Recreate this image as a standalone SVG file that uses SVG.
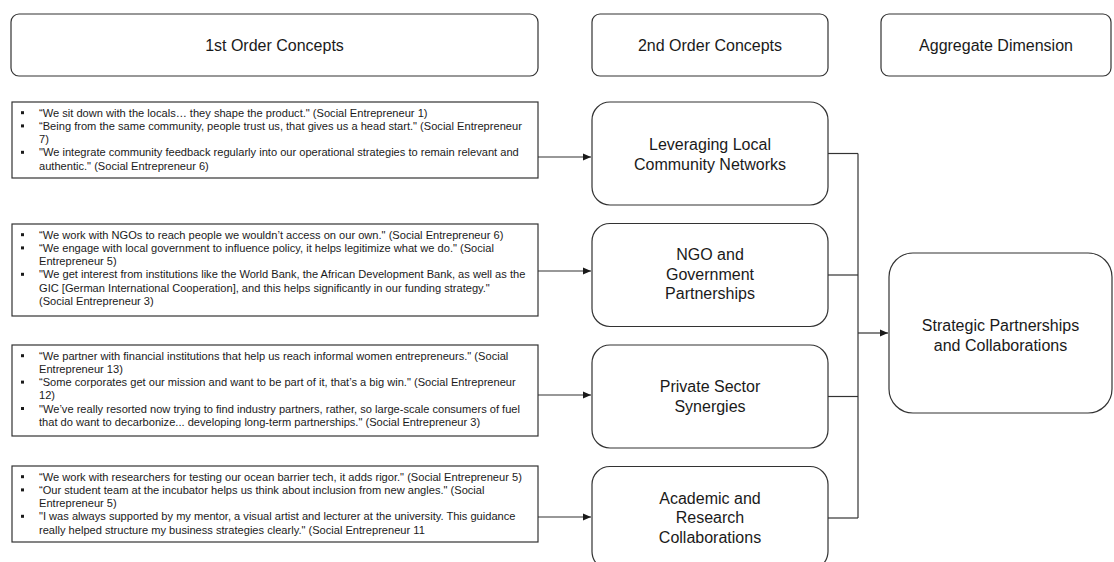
<svg xmlns="http://www.w3.org/2000/svg" width="1114" height="562" viewBox="0 0 1114 562">
<style>
  .hdr { fill: #ffffff; stroke: #333333; stroke-width: 1.2; }
  .qbox { fill: #ffffff; stroke: #333333; stroke-width: 1.2; }
  .cbox { fill: #ffffff; stroke: #333333; stroke-width: 1.2; }
  .ht { font-family: "Liberation Sans", Arial, sans-serif; font-size: 16px; fill: #1a1a1a; text-anchor: middle; }
  .ct { font-family: "Liberation Sans", Arial, sans-serif; font-size: 16px; fill: #1a1a1a; text-anchor: middle; }
  .qt { font-family: "Liberation Sans", Arial, sans-serif; font-size: 11.1px; fill: #1a1a1a; }
  .bul { fill: #1a1a1a; }
  .conn { fill: none; stroke: #333333; stroke-width: 1.2; }
</style>
<defs>
  <marker id="arr" markerWidth="10" markerHeight="10" refX="9" refY="5" orient="auto" markerUnits="userSpaceOnUse">
    <path d="M1,1.5 L9,5 L1,8.5 Z" fill="#1a1a1a"/>
  </marker>
</defs>
<rect width="1114" height="562" fill="#ffffff"/>

<g id="header-1st">
  <rect class="hdr" x="11" y="14" width="527" height="62" rx="8"/>
  <text class="ht" x="274.5" y="50.5">1st Order Concepts</text>
</g>
<g id="header-2nd">
  <rect class="hdr" x="592" y="14" width="236" height="62" rx="8"/>
  <text class="ht" x="710" y="50.5">2nd Order Concepts</text>
</g>
<g id="header-agg">
  <rect class="hdr" x="881" y="14" width="230" height="62" rx="8"/>
  <text class="ht" x="996" y="50.5">Aggregate Dimension</text>
</g>

<g id="quotes-1">
  <rect class="qbox" x="12" y="102" width="526" height="76"/>
  <rect class="bul" x="21" y="111.2" width="3" height="3"/>
  <rect class="bul" x="21" y="124.4" width="3" height="3"/>
  <rect class="bul" x="21" y="150.8" width="3" height="3"/>
  <text class="qt" x="39" y="116.7">“We sit down with the locals… they shape the product." (Social Entrepreneur 1)</text>
  <text class="qt" x="39" y="129.9">“Being from the same community, people trust us, that gives us a head start." (Social Entrepreneur</text>
  <text class="qt" x="39" y="143.1">7)</text>
  <text class="qt" x="39" y="156.3">"We integrate community feedback regularly into our operational strategies to remain relevant and</text>
  <text class="qt" x="39" y="169.5">authentic." (Social Entrepreneur 6)</text>
</g>

<g id="quotes-2">
  <rect class="qbox" x="12" y="224" width="526" height="92"/>
  <rect class="bul" x="21" y="233.2" width="3" height="3"/>
  <rect class="bul" x="21" y="246.4" width="3" height="3"/>
  <rect class="bul" x="21" y="272.8" width="3" height="3"/>
  <text class="qt" x="39" y="238.7">“We work with NGOs to reach people we wouldn’t access on our own." (Social Entrepreneur 6)</text>
  <text class="qt" x="39" y="251.9">“We engage with local government to influence policy, it helps legitimize what we do." (Social</text>
  <text class="qt" x="39" y="265.1">Entrepreneur 5)</text>
  <text class="qt" x="39" y="278.3">"We get interest from institutions like the World Bank, the African Development Bank, as well as the</text>
  <text class="qt" x="39" y="291.5">GIC [German International Cooperation], and this helps significantly in our funding strategy."</text>
  <text class="qt" x="39" y="304.7">(Social Entrepreneur 3)</text>
</g>

<g id="quotes-3">
  <rect class="qbox" x="12" y="345" width="526" height="91"/>
  <rect class="bul" x="21" y="354.2" width="3" height="3"/>
  <rect class="bul" x="21" y="380.6" width="3" height="3"/>
  <rect class="bul" x="21" y="407" width="3" height="3"/>
  <text class="qt" x="39" y="359.7">“We partner with financial institutions that help us reach informal women entrepreneurs." (Social</text>
  <text class="qt" x="39" y="372.9">Entrepreneur 13)</text>
  <text class="qt" x="39" y="386.1">“Some corporates get our mission and want to be part of it, that’s a big win." (Social Entrepreneur</text>
  <text class="qt" x="39" y="399.3">12)</text>
  <text class="qt" x="39" y="412.5">"We’ve really resorted now trying to find industry partners, rather, so large-scale consumers of fuel</text>
  <text class="qt" x="39" y="425.7">that do want to decarbonize... developing long-term partnerships." (Social Entrepreneur 3)</text>
</g>

<g id="quotes-4">
  <rect class="qbox" x="12" y="466" width="526" height="76"/>
  <rect class="bul" x="21" y="475.2" width="3" height="3"/>
  <rect class="bul" x="21" y="488.4" width="3" height="3"/>
  <rect class="bul" x="21" y="514.8" width="3" height="3"/>
  <text class="qt" x="39" y="480.7">“We work with researchers for testing our ocean barrier tech, it adds rigor." (Social Entrepreneur 5)</text>
  <text class="qt" x="39" y="493.9">“Our student team at the incubator helps us think about inclusion from new angles." (Social</text>
  <text class="qt" x="39" y="507.1">Entrepreneur 5)</text>
  <text class="qt" x="39" y="520.3">"I was always supported by my mentor, a visual artist and lecturer at the university. This guidance</text>
  <text class="qt" x="39" y="533.5">really helped structure my business strategies clearly." (Social Entrepreneur 11</text>
</g>

<g id="concept-local">
  <rect class="cbox" x="592" y="102" width="236" height="103" rx="18"/>
  <text class="ct" x="710" y="149.8">Leveraging Local</text>
  <text class="ct" x="710" y="169.5">Community Networks</text>
</g>
<g id="concept-ngo">
  <rect class="cbox" x="592" y="223.5" width="236" height="103" rx="18"/>
  <text class="ct" x="710" y="259.8">NGO and</text>
  <text class="ct" x="710" y="279.5">Government</text>
  <text class="ct" x="710" y="299.2">Partnerships</text>
</g>
<g id="concept-private">
  <rect class="cbox" x="592" y="345" width="236" height="103" rx="18"/>
  <text class="ct" x="710" y="392">Private Sector</text>
  <text class="ct" x="710" y="411.7">Synergies</text>
</g>
<g id="concept-academic">
  <rect class="cbox" x="592" y="466.5" width="236" height="103" rx="18"/>
  <text class="ct" x="710" y="503.5">Academic and</text>
  <text class="ct" x="710" y="523.2">Research</text>
  <text class="ct" x="710" y="542.9">Collaborations</text>
</g>

<g id="aggregate">
  <rect class="cbox" x="889" y="253" width="223" height="160" rx="24"/>
  <text class="ct" x="1000.5" y="331">Strategic Partnerships</text>
  <text class="ct" x="1000.5" y="350.5">and Collaborations</text>
</g>

<g id="connectors">
  <line class="conn" x1="538" y1="157" x2="591" y2="157" marker-end="url(#arr)"/>
  <line class="conn" x1="538" y1="271" x2="591" y2="271" marker-end="url(#arr)"/>
  <line class="conn" x1="538" y1="395" x2="591" y2="395" marker-end="url(#arr)"/>
  <line class="conn" x1="538" y1="517" x2="591" y2="517" marker-end="url(#arr)"/>
  <polyline class="conn" points="828,153.5 858,153.5"/>
  <polyline class="conn" points="828,275 858,275"/>
  <polyline class="conn" points="828,396.5 858,396.5"/>
  <polyline class="conn" points="828,518 858,518"/>
  <line class="conn" x1="858" y1="153.5" x2="858" y2="518"/>
  <line class="conn" x1="858" y1="333" x2="888" y2="333" marker-end="url(#arr)"/>
</g>
</svg>
